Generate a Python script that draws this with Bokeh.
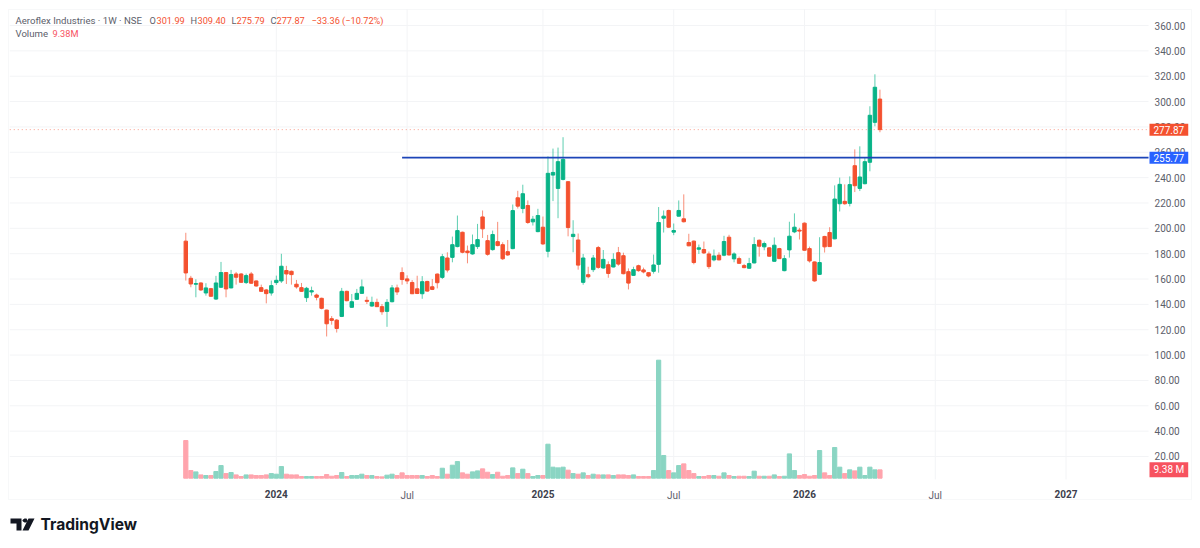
from bokeh.embed import file_html
from bokeh.models import (BoxAnnotation, ColumnDataSource, FixedTicker, Label, LinearAxis, PolyAnnotation,
                          Range1d)
from bokeh.plotting import figure
from bokeh.resources import INLINE

# weekly candles, index 0 is the listing week
opens = [189.9, 160.6, 155.9, 156.9, 149.0, 152.4, 144.2, 153.5, 165.1, 153.0,
         164.0, 164.0, 157.2, 164.0, 158.5, 153.2, 151.4, 149.0, 157.2, 158.5,
         166.7, 166.1, 155.9, 153.2, 145.3, 149.8, 147.4, 144.8, 135.5, 128.7,
         127.6, 130.5, 150.3, 137.7, 144.0, 148.7, 143.2, 138.7, 141.6, 138.2,
         134.5, 142.1, 153.0, 165.1, 160.1, 157.3, 152.3, 148.4, 158.1, 153.9,
         163.9, 161.3, 176.6, 177.1, 185.6, 196.9, 182.1, 179.8, 185.6, 209.0,
         190.3, 183.2, 189.5, 187.1, 181.6, 184.0, 224.1, 215.6, 218.0, 205.1,
         197.4, 200.9, 181.9, 242.0, 231.5, 238.6, 236.8, 193.5, 190.8, 157.4,
         163.4, 167.4, 184.8, 168.7, 171.3, 169.5, 180.8, 178.4, 165.8, 162.9,
         170.5, 167.2, 165.0, 166.1, 171.6, 208.0, 214.1, 197.0, 209.6, 207.5,
         188.8, 189.9, 183.5, 183.3, 179.8, 175.1, 178.8, 178.8, 193.0, 175.9,
         176.1, 170.6, 168.5, 172.7, 190.6, 185.4, 184.6, 174.0, 184.0, 166.6,
         183.0, 197.2, 198.6, 204.1, 184.0, 173.5, 163.7, 193.6, 196.7, 191.7,
         219.4, 221.3, 219.7, 249.4, 231.5, 235.2, 252.1, 283.6, 301.99]
closes = [164.8, 156.1, 156.4, 151.4, 153.0, 146.4, 156.9, 165.1, 152.2, 163.5,
          161.4, 157.4, 162.7, 156.7, 154.5, 150.3, 148.5, 154.8, 159.0, 170.1,
          164.0, 163.5, 153.8, 150.3, 152.7, 150.8, 145.6, 136.9, 124.7, 127.4,
          121.0, 150.3, 142.9, 142.1, 148.7, 153.8, 142.4, 141.6, 138.2, 134.2,
          141.6, 153.0, 149.8, 159.6, 158.5, 148.4, 148.6, 157.9, 150.5, 151.8,
          157.1, 177.6, 167.1, 187.1, 198.2, 181.1, 180.8, 187.1, 191.1, 199.6,
          179.5, 195.1, 186.4, 176.0, 179.0, 214.0, 217.5, 227.3, 204.6, 207.2,
          210.1, 187.7, 243.4, 244.1, 252.6, 254.4, 200.6, 195.3, 171.0, 176.6,
          161.8, 176.6, 169.2, 175.5, 164.4, 175.5, 171.8, 164.2, 156.8, 167.4,
          166.6, 165.6, 162.4, 171.1, 204.6, 209.6, 200.9, 198.3, 214.1, 205.2,
          186.2, 173.0, 184.6, 180.6, 169.8, 178.2, 175.1, 189.6, 179.0, 179.8,
          172.4, 169.0, 172.2, 187.2, 185.9, 188.0, 178.0, 186.7, 176.1, 176.1,
          193.8, 200.9, 197.8, 182.7, 174.3, 158.5, 173.0, 185.4, 185.6, 223.1,
          234.7, 219.4, 234.5, 233.6, 240.5, 252.6, 289.2, 311.3, 277.87]
highs = [196.5, 162.5, 159.8, 157.4, 156.7, 153.0, 162.5, 173.5, 165.6, 167.2,
         165.6, 164.6, 164.3, 165.6, 158.8, 155.6, 152.2, 158.8, 162.7, 179.9,
         170.4, 166.7, 159.3, 156.9, 153.8, 154.0, 148.5, 145.3, 135.8, 130.8,
         128.4, 153.0, 150.8, 148.2, 152.2, 159.6, 146.1, 146.1, 144.5, 140.3,
         144.2, 155.3, 155.6, 169.2, 162.9, 159.2, 162.6, 162.3, 158.6, 160.0,
         164.4, 179.8, 181.1, 193.5, 210.1, 197.4, 186.4, 195.1, 203.5, 214.1,
         194.8, 198.2, 205.1, 189.0, 190.8, 218.8, 229.6, 234.4, 222.0, 209.8,
         215.4, 209.3, 256.8, 262.9, 263.7, 271.9, 237.0, 206.4, 195.9, 179.8,
         169.7, 179.0, 186.1, 182.9, 173.9, 180.3, 185.3, 180.8, 168.4, 169.7,
         171.3, 169.0, 165.3, 179.3, 216.8, 214.1, 214.7, 203.8, 222.0, 226.8,
         195.7, 190.4, 187.2, 189.6, 181.7, 183.3, 181.1, 194.1, 194.9, 181.1,
         177.7, 171.9, 176.7, 193.0, 191.2, 189.6, 185.1, 192.8, 184.6, 178.8,
         205.2, 211.8, 200.4, 204.6, 185.6, 173.8, 193.0, 194.1, 200.9, 233.9,
         240.0, 234.7, 241.0, 262.3, 264.7, 255.7, 296.3, 321.5, 309.4]
lows = [158.8, 153.5, 145.6, 150.6, 146.9, 146.1, 143.5, 153.0, 145.6, 152.7,
        155.6, 157.2, 156.1, 156.1, 154.0, 150.1, 140.8, 146.9, 155.3, 156.9,
        156.1, 155.6, 152.4, 149.8, 141.9, 146.9, 143.2, 136.1, 114.7, 124.0,
        117.8, 130.0, 142.4, 137.4, 143.7, 148.5, 140.3, 138.2, 137.9, 131.8,
        122.3, 141.6, 147.4, 155.5, 156.0, 148.1, 148.1, 144.4, 150.0, 151.3,
        152.6, 160.0, 165.2, 173.2, 185.0, 180.3, 172.4, 179.2, 183.7, 192.4,
        178.4, 182.4, 185.8, 175.0, 178.2, 183.5, 215.6, 211.9, 203.5, 202.2,
        196.9, 186.9, 177.1, 221.5, 208.0, 237.8, 193.7, 181.1, 167.4, 155.5,
        160.5, 165.5, 168.1, 168.1, 161.0, 169.2, 170.5, 163.7, 151.8, 162.6,
        165.8, 164.5, 161.4, 164.3, 165.0, 196.7, 200.4, 194.6, 209.4, 204.6,
        185.9, 171.6, 179.8, 179.8, 168.0, 174.0, 174.8, 178.0, 178.5, 173.2,
        172.2, 168.5, 168.2, 172.4, 177.7, 182.7, 177.7, 173.8, 175.9, 166.1,
        176.9, 196.2, 191.2, 182.5, 173.0, 157.9, 163.2, 180.9, 185.4, 191.4,
        213.3, 218.6, 217.3, 228.6, 229.4, 234.7, 245.0, 280.5, 275.79]
# volume in millions
volumes = [42.3, 8.6, 7.1, 3.7, 3.0, 3.0, 7.5, 14.2, 5.2, 6.4,
           3.7, 1.9, 3.7, 3.7, 3.0, 3.0, 3.7, 5.2, 4.5, 13.1,
           4.5, 3.7, 3.7, 1.9, 1.9, 1.9, 1.9, 1.9, 4.1, 2.2,
           3.0, 6.4, 1.9, 3.0, 3.0, 4.5, 3.0, 3.0, 1.9, 1.5,
           3.4, 4.5, 3.0, 6.0, 3.0, 3.0, 3.0, 3.0, 1.9, 3.0,
           1.9, 11.2, 4.5, 14.6, 18.7, 6.0, 4.5, 7.1, 8.2, 10.5,
           6.7, 4.1, 6.7, 2.2, 3.0, 11.6, 5.2, 10.1, 5.2, 1.9,
           3.0, 3.0, 38.2, 12.4, 11.6, 12.4, 9.0, 5.2, 4.5, 6.0,
           3.0, 4.5, 3.7, 3.7, 3.7, 3.0, 3.7, 3.7, 3.0, 3.7,
           1.9, 1.9, 1.9, 8.6, 132.6, 25.5, 8.6, 6.0, 14.2, 16.1,
           8.6, 5.2, 1.9, 1.9, 3.0, 3.0, 2.2, 6.0, 3.0, 1.9,
           2.2, 2.2, 1.9, 7.9, 2.2, 2.2, 2.2, 3.7, 1.9, 2.2,
           27.3, 8.6, 3.0, 4.1, 2.2, 3.0, 31.1, 6.0, 3.0, 34.5,
           12.4, 5.2, 9.4, 8.2, 12.4, 3.0, 12.4, 9.4, 9.38]

price_ticks = [20, 40, 60, 80, 100, 120, 140, 160, 180, 200, 220, 240, 260, 280, 300, 320, 340, 360]
year_ticks = {18: "2024", 71: "2025", 123: "2026", 175: "2027"}
jul_ticks = [44, 97, 149]
last_close = 277.87
last_volume = 9.38
level_price = 255.77
level_start = 43

GREEN = "#08b387"
RED = "#f4512f"
GREY = "#5c606b"
FONT = "Roboto"

WIDTH, HEIGHT = 1192, 540
# pane edges, as index and price values
PANE_LEFT, PANE_RIGHT = -35.0, 191.4
PANE_BOTTOM, PANE_TOP = 1.86, 372.6

idx = list(range(len(opens)))
up = [c >= o for o, c in zip(opens, closes)]
source = ColumnDataSource(data=dict(
    idx=idx, open=opens, close=closes, high=highs, low=lows, volume=volumes,
    color=[GREEN if u else RED for u in up],
    vcolor=["#8ad5c3" if u else "#ffa4ad" for u in up],
))

# the frame fills the whole canvas, otherwise the tags and the footer get clipped
p = figure(width=WIDTH, height=HEIGHT, output_backend="svg", toolbar_location=None,
           x_range=Range1d(-36.84, 200.14), y_range=Range1d(-46.27, 379.74),
           x_axis_location=None, y_axis_location=None, min_border=0)
p.extra_y_ranges = {"vol": Range1d(-70.0, 536.7)}
p.outline_line_color = None
p.background_fill_color = "white"
p.grid.visible = False

x_grid = list(year_ticks) + jul_ticks
p.segment(x0=x_grid, x1=x_grid, y0=PANE_BOTTOM, y1=PANE_TOP, color="#f3f4f6", line_width=1)
p.segment(x0=PANE_LEFT, x1=PANE_RIGHT, y0=price_ticks, y1=price_ticks, color="#f3f4f6", line_width=1)


def style_axis(ax, color=GREY, weight="normal"):
    ax.axis_line_color = None
    ax.major_tick_line_color = None
    ax.minor_tick_line_color = None
    ax.major_label_text_font = FONT
    ax.major_label_text_font_size = "10px"
    ax.major_label_text_font_style = weight
    ax.major_label_text_color = color


# fixed_location keeps the axes inside the frame, they take no room of their own
price_axis = LinearAxis(fixed_location=PANE_RIGHT, ticker=FixedTicker(ticks=price_ticks),
                        major_label_overrides={t: f"{t}.00" for t in price_ticks}, major_label_standoff=0)
style_axis(price_axis)
p.add_layout(price_axis, "right")

year_axis = LinearAxis(fixed_location=PANE_BOTTOM, ticker=FixedTicker(ticks=list(year_ticks)),
                       major_label_overrides=year_ticks, major_label_standoff=5)
style_axis(year_axis, color="#3c404c", weight="bold")
p.add_layout(year_axis, "below")

jul_axis = LinearAxis(fixed_location=PANE_BOTTOM, ticker=FixedTicker(ticks=jul_ticks),
                      major_label_overrides={j: "Jul" for j in jul_ticks}, major_label_standoff=5)
style_axis(jul_axis)
p.add_layout(jul_axis, "below")

# volume pane sits under the candles on its own scale
p.vbar(x="idx", top="volume", bottom=0, width=0.84, color="vcolor", source=source, y_range_name="vol")
p.segment(x0="idx", x1="idx", y0="low", y1="high", color="color", line_width=1, line_alpha=0.65, source=source)
p.vbar(x="idx", top="open", bottom="close", width=0.68, color="color", source=source)

p.line(x=[PANE_LEFT, PANE_RIGHT], y=[last_close, last_close], color=RED, line_alpha=0.55,
       line_dash=[1, 3], line_width=1)
p.line(x=[level_start, PANE_RIGHT], y=[level_price, level_price], color="#1c45b8", line_width=1.6)


def text(page_x, page_y, s, color=GREY, size="9.6px", style="normal", font=FONT):
    p.add_layout(Label(x=page_x, y=HEIGHT - page_y, x_units="screen", y_units="screen", text=s,
                       text_color=color, text_font=font, text_font_size=size, text_font_style=style,
                       text_baseline="middle"))


def tag(y, s, fill, range_name="default"):
    # padding is (horizontal, vertical)
    p.add_layout(Label(x=1149, y=y, x_units="screen", y_units="data", y_range_name=range_name, text=s,
                       text_color="white", text_font=FONT, text_font_size="10px", text_baseline="middle",
                       background_fill_color=fill, padding=(4, 2)))


# legend row
text(15, 20, "Aeroflex Industries · 1W · NSE")
for lx, s, c in [(149, "O", GREY), (156, "301.99", RED), (190, "H", GREY), (197, "309.40", RED),
                 (231, "L", GREY), (236, "275.79", RED), (270, "C", GREY), (276, "277.87", RED),
                 (311, "−33.36 (−10.72%)", RED)]:
    text(lx, 20, s, color=c, size="9.2px")
text(15, 33, "Volume")
text(52, 33, "9.38M", color="#f7525f", size="9.2px")

tag(last_close, "277.87", RED)
tag(level_price, "255.77", "#2962ff")
tag(last_volume, "9.38 M", "#f7525f", "vol")

# outer frame and footer logo
p.add_layout(BoxAnnotation(left=8, right=1191, top=HEIGHT - 9, bottom=HEIGHT - 499, left_units="screen",
                           right_units="screen", top_units="screen", bottom_units="screen",
                           fill_alpha=0, line_color="#e6e7ea", line_width=1))
text(40, 524, "TradingView", color="#131722", size="15.6px", style="bold", font="Inter")
for xs, ys in [([10, 21, 21, 16, 16, 10], [518, 518, 530, 530, 523, 523]),
               ([22.5, 24, 26, 27, 26, 24, 22.5, 22], [519, 518, 518, 520, 522, 522, 521, 520]),
               ([28, 34, 28, 22], [518, 518, 530, 530])]:
    p.add_layout(PolyAnnotation(xs=xs, ys=[HEIGHT - v for v in ys], xs_units="screen", ys_units="screen",
                                fill_color="#131722", fill_alpha=1, line_color=None))

open("out.html", "w").write(file_html(p, INLINE))
